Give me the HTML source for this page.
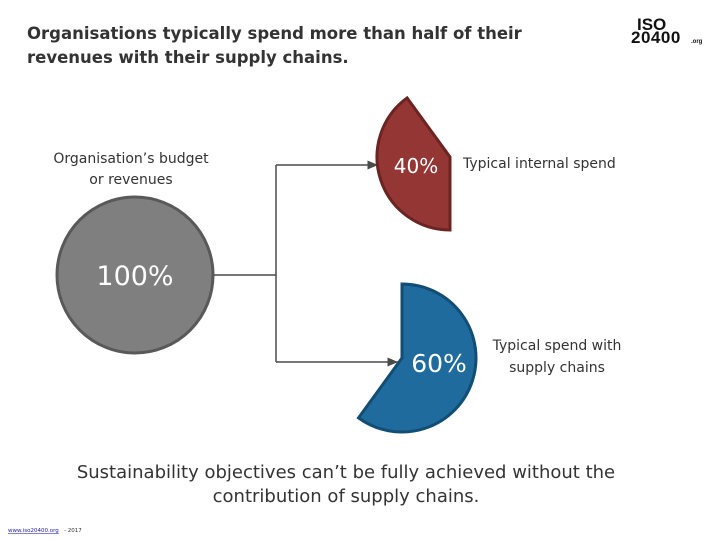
<!DOCTYPE html>
<html><head><meta charset="utf-8"><style>
body{margin:0;background:#fff;width:720px;height:540px;overflow:hidden;font-family:"DejaVu Sans","Liberation Sans",sans-serif}
svg{display:block}
</style></head><body>
<svg width="720" height="540">
<defs><marker id="ar" markerWidth="8" markerHeight="8" refX="7" refY="4" orient="auto"><path d="M0,1 L7,4 L0,7z" fill="#4a4a4a"/></marker></defs>
<text x="27" y="39" font-size="16.5" font-weight="bold" fill="#333">Organisations typically spend more than half of their</text>
<text x="27" y="63" font-size="16.5" font-weight="bold" fill="#333">revenues with their supply chains.</text>
<g font-weight="bold" fill="#111" font-family="Liberation Sans, sans-serif">
<text x="637" y="30" font-size="17">ISO</text>
<text x="631" y="43" font-size="17" letter-spacing="0.5">20400</text>
<text x="691" y="43" font-size="6">.org</text></g>
<text x="131" y="163" font-size="14" fill="#333" text-anchor="middle">Organisation’s budget</text>
<text x="131" y="184" font-size="14" fill="#333" text-anchor="middle">or revenues</text>
<circle cx="135" cy="275" r="78" fill="#7f7f7f" stroke="#595959" stroke-width="3"/>
<text x="135" y="285" font-size="27" fill="#fff" text-anchor="middle">100%</text>
<g stroke="#4a4a4a" stroke-width="1.5" fill="none">
<path d="M214,275 H276 M276,165 V362"/>
<path d="M276,165 H378" marker-end="url(#ar)"/>
<path d="M276,362 H398" marker-end="url(#ar)"/></g>
<g id="slices"></g>
<text x="463" y="168" font-size="14" fill="#333">Typical internal spend</text>
<text x="557" y="350" font-size="14" fill="#333" text-anchor="middle">Typical spend with</text>
<text x="557" y="372" font-size="14" fill="#333" text-anchor="middle">supply chains</text>
<text x="346" y="478" font-size="18" fill="#333" text-anchor="middle">Sustainability objectives can’t be fully achieved without the</text>
<text x="346" y="502" font-size="18" fill="#333" text-anchor="middle">contribution of supply chains.</text>
<text x="8" y="532" font-size="5.5" fill="#1a1aa8" text-decoration="underline">www.iso20400.org</text>
<text x="64" y="532" font-size="5.5" fill="#333">- 2017</text>
</svg>
<script>
const categories=["Typical internal spend","Typical spend with supply chains"];
const shares=[40,60];
const labels=["40%","60%"];
const g=document.getElementById('slices');
const ns="http://www.w3.org/2000/svg";
const cfg=[{cx:450,cy:157,r:73,start:180,fill:"#943634",stroke:"#6b2422",lx:416,ly:173},
           {cx:402,cy:358,r:74,start:0,fill:"#1f6b9e",stroke:"#124d73",lx:439,ly:372}];
function pt(c,a){const t=a*Math.PI/180;return [c.cx+c.r*Math.sin(t),c.cy-c.r*Math.cos(t)];}
shares.forEach((v,i)=>{
 const c=cfg[i];const sweep=v/100*360;
 const [x1,y1]=pt(c,c.start);const [x2,y2]=pt(c,c.start+sweep);
 const p=document.createElementNS(ns,'path');
 p.setAttribute('d',`M${c.cx},${c.cy} L${x1},${y1} A${c.r},${c.r} 0 ${sweep>180?1:0} 1 ${x2},${y2} Z`);
 p.setAttribute('fill',c.fill);p.setAttribute('stroke',c.stroke);p.setAttribute('stroke-width','3');
 
 
 g.appendChild(p);
 const t=document.createElementNS(ns,'text');
 t.setAttribute('x',c.lx);t.setAttribute('y',c.ly);t.setAttribute('fill','#fff');
 t.setAttribute('font-size',i===0?'20':'25');t.setAttribute('text-anchor','middle');
 t.textContent=labels[i];
 
 
 g.appendChild(t);
});
</script>
</body></html>
